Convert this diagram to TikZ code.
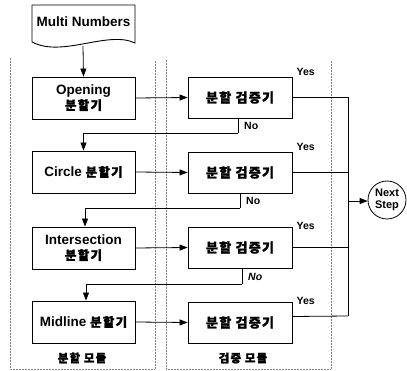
\documentclass[tikz,border=0pt]{standalone}
\usepackage{fontspec}
\setmainfont{Liberation Sans}
\newfontfamily\kr{Noto Sans CJK KR}[LetterSpace=10,FakeBold=1.6]
\usetikzlibrary{arrows.meta}
\tikzset{
  box/.style={draw, line width=0.9pt, minimum width=103pt, minimum height=42pt, inner sep=1pt, align=center, font=\fontsize{13.5}{16}\selectfont\bfseries},
  vbox/.style={box, minimum width=104pt, minimum height=41pt},
  conn/.style={line width=0.8pt},
  arr/.style={conn, -{Triangle[length=8pt,width=6pt]}},
  lbl/.style={font=\fontsize{10.5}{12}\selectfont\bfseries, inner sep=1pt},
  modline/.style={gray, densely dotted, line width=0.5pt},
  modlbl/.style={font=\kr\fontsize{11.5}{13}\selectfont\bfseries},
}
\begin{document}
\begin{tikzpicture}[x=1pt,y=-1pt]
\useasboundingbox (0,0) rectangle (407,371);
% module frames
\draw[modline] (10,58) -- (10,369) -- (155,369) -- (155,60);
\draw[modline] (166,60) -- (166,369) -- (331,369) -- (331,60);
% input document
\draw[line width=0.9pt] (32,5) -- (135,5) -- (135,43) .. controls (108,30) and (62,58) .. (32,42) -- cycle;
\node[font=\fontsize{13.5}{16}\selectfont\bfseries] (mn) at (83.5,22) {Multi Numbers};
\coordinate (mnb) at (83,46);
% splitters
\node[box] (s1) at (83.5,98) {Opening\\[-1pt]{\kr\fontsize{12.5}{15}\selectfont 분할기}};
\node[box] (s2) at (83.5,172) {Circle {\kr\fontsize{12.5}{15}\selectfont 분할기}};
\node[box] (s3) at (83.5,248) {Intersection\\[-1pt]{\kr\fontsize{12.5}{15}\selectfont 분할기}};
\node[box] (s4) at (83.5,322) {Midline {\kr\fontsize{12.5}{15}\selectfont 분할기}};
% verifiers
\node[vbox] (v1) at (240,97.5) {\kr\fontsize{13}{15}\selectfont 분할 검증기};
\node[vbox] (v2) at (240,172.5) {\kr\fontsize{13}{15}\selectfont 분할 검증기};
\node[vbox] (v3) at (240,247.5) {\kr\fontsize{13}{15}\selectfont 분할 검증기};
\node[vbox] (v4) at (240,322.5) {\kr\fontsize{13}{15}\selectfont 분할 검증기};
% next step
\node[draw, circle, line width=0.8pt, minimum size=38pt, inner sep=0pt, align=center, font=\fontsize{11}{12.5}\selectfont\bfseries] (ns) at (387,200) {Next\\Step};
% arrows
\draw[arr] (mnb) -- (s1.north);
\foreach \i in {1,2,3,4} {
  \draw[arr] (s\i.east) -- (v\i.west);
}
% yes lines
\coordinate (j1) at (348,97.5);
\coordinate (j4) at (348,316);
\coordinate (jn) at (348,201);
\draw[conn] (v1.east) -- (j1) -- (j4);
\draw[conn] (v2.east) -- (348,172.5);
\draw[conn] (v3.east) -- (348,247.5);
\draw[conn] ([yshift=6pt]v4.east) -- (j4);
\draw[arr] (jn) -- (ns.west |- jn);
\node[lbl, anchor=south west] (y1) at ([xshift=3pt]v1.north east) {Yes};
\node[lbl, anchor=south west] (y2) at ([xshift=3pt]v2.north east) {Yes};
\node[lbl, anchor=south west] (y3) at ([xshift=3pt,yshift=-4pt]v3.north east) {Yes};
\node[lbl, anchor=south west] (y4) at ([xshift=3pt,yshift=-4pt]v4.north east) {Yes};
% no lines
\coordinate (k1) at (238,133);
\coordinate (k2) at (240,208);
\coordinate (k3) at (242,284);
\draw[conn] ([xshift=-2pt]v1.south) -- ([xshift=-2pt]v1.south |- k1);
\draw[arr] ([xshift=-2pt]v1.south |- k1) -| (s2.north);
\draw[conn] (v2.south) -- (v2.south |- k2);
\draw[arr] (v2.south |- k2) -| ([xshift=1.5pt]s3.north);
\draw[conn] ([xshift=2pt]v3.south) -- ([xshift=2pt]v3.south |- k3);
\draw[arr] ([xshift=2pt]v3.south |- k3) -| ([xshift=2.5pt]s4.north);
\node[lbl, anchor=west] (no1) at (243,126) {No};
\node[lbl, anchor=west] (no2) at (245,201) {No};
\node[lbl, anchor=west] (no3) at (247,277) {\itshape No};
% module labels
\node[modlbl] (m1) at (82,358) {분할 모듈};
\node[modlbl] (m2) at (243,358) {검증 모듈};
\end{tikzpicture}
\end{document}
